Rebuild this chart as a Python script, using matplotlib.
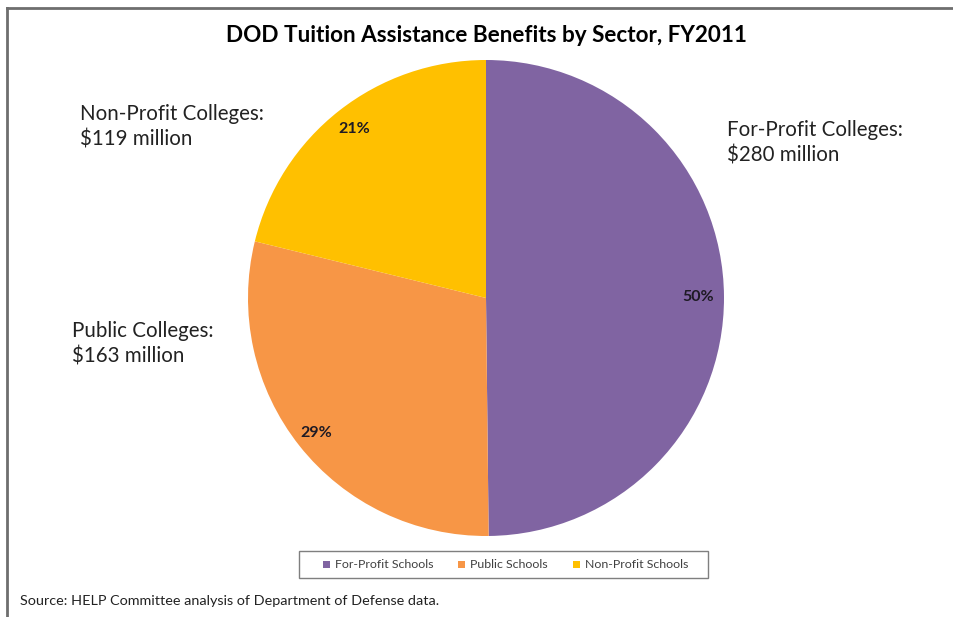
import numpy as np
import matplotlib.pyplot as plt
from matplotlib.patches import Rectangle
from matplotlib.lines import Line2D

plt.rcParams['font.family'] = ['Lato', 'DejaVu Sans']

sectors = ['For-Profit Schools', 'Public Schools', 'Non-Profit Schools']
callouts = ['For-Profit Colleges:', 'Public Colleges:', 'Non-Profit Colleges:']
benefits = [280, 163, 119]  # $ million
colors = ['#8064A2', '#F79646', '#FFC000']

W, H = 954, 617
fig = plt.figure(figsize=(W / 100, H / 100), dpi=100)
ax = fig.add_axes([0, 0, 1, 1])

# frame lines (top and left only)
ax.add_line(Line2D([7, W], [H - 8, H - 8], color='#6e6e6e', lw=2))
ax.add_line(Line2D([7, 7], [H - 8, 0], color='#6e6e6e', lw=2))

cx, cy, r = 486, H - 298, 238
wedges, _ = ax.pie(benefits, colors=colors, startangle=90, counterclock=False,
                   center=(cx, cy), radius=r, frame=True,
                   wedgeprops=dict(linewidth=0))
ax.set_xlim(0, W)
ax.set_ylim(0, H)
ax.set_aspect('equal')
ax.axis('off')

total = sum(benefits)
pct_dist = [0.89, 0.91, 0.90]
for w, v, d in zip(wedges, benefits, pct_dist):
    ang = np.deg2rad((w.theta1 + w.theta2) / 2)
    ax.text(cx + d * r * np.cos(ang), cy + d * r * np.sin(ang),
            '%d%%' % round(100 * v / total), ha='center', va='center',
            fontsize=11.5, fontweight='bold', color='#1e1a24')

# callout labels, two lines each (x, first baseline)
label_pos = [(727, 136), (72, 337), (80, 120)]
for name, v, (x, y) in zip(callouts, benefits, label_pos):
    ax.text(x, H - y, name, ha='left', va='baseline',
            fontsize=14.8, color='#222222')
    ax.text(x, H - y - 25, '$' + str(v) + ' million', ha='left', va='baseline',
            fontsize=14.8, color='#222222')

ax.text(486, H - 42, 'DOD Tuition Assistance Benefits by Sector, FY2011',
        ha='center', va='baseline', fontsize=16.2, fontweight='bold', color='black')

# legend box
ax.add_patch(Rectangle((299, H - 578), 409, 27, facecolor='white',
                       edgecolor='#7f7f7f', lw=1))
leg_x = [323, 458, 573]
for name, c, x in zip(sectors, colors, leg_x):
    ax.add_patch(Rectangle((x, H - 568), 7, 7, facecolor=c, edgecolor='none'))
    ax.text(x + 12, H - 568, name, ha='left', va='baseline', fontsize=8.9,
            color='#404040')

ax.text(20, H - 605, 'Source: HELP Committee analysis of Department of Defense data.',
        ha='left', va='baseline', fontsize=10.4, color='#222222')

fig.savefig('out.png', dpi=100)
